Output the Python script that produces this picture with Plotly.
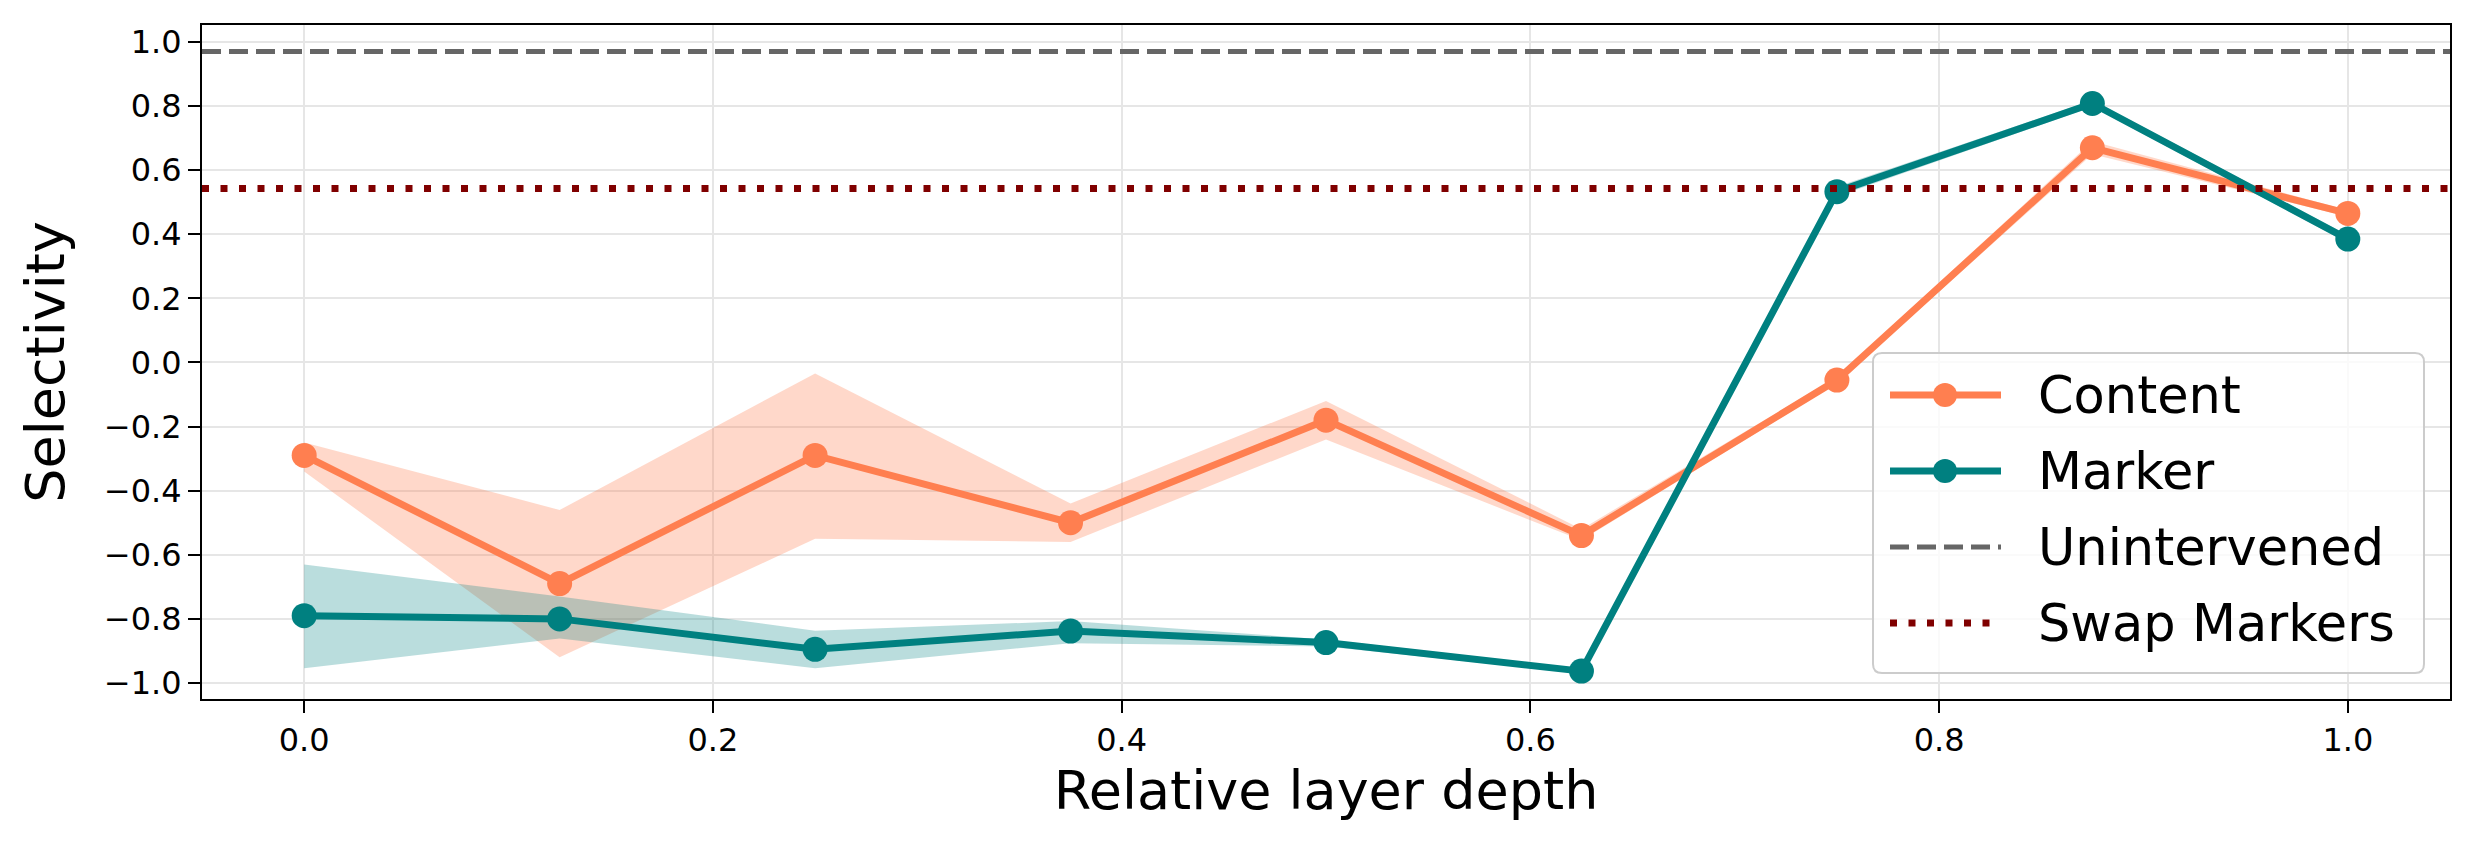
import plotly.graph_objects as go

# --- data ---
depth = [0.0, 0.125, 0.25, 0.375, 0.5, 0.625, 0.75, 0.875, 1.0]

content = [-0.29, -0.69, -0.29, -0.50, -0.18, -0.54, -0.055, 0.67, 0.465]
content_hi = [-0.25, -0.46, -0.034, -0.44, -0.12, -0.52, -0.045, 0.69, 0.475]
content_lo = [-0.34, -0.92, -0.55, -0.56, -0.24, -0.555, -0.065, 0.65, 0.455]

marker = [-0.79, -0.80, -0.895, -0.838, -0.874, -0.963, 0.533, 0.808, 0.385]
marker_hi = [-0.63, -0.73, -0.837, -0.807, -0.864, -0.955, 0.548, 0.818, 0.397]
marker_lo = [-0.954, -0.861, -0.954, -0.876, -0.886, -0.970, 0.518, 0.798, 0.373]

unintervened = 0.97
swap_markers = 0.543

legend_names = ["Content", "Marker", "Unintervened", "Swap Markers"]

CORAL = "#FF7F50"
TEAL = "#008080"
GREY = "#666666"
MAROON = "#800000"
FONT = "DejaVu Sans"
UNINT_DASH = "19px,8px"
SWAP_DASH = "7px,11.5px"

W, H = 2474, 850
ML, MR, MT, MB = 202, 24, 25, 151
PW, PH = W - ML - MR, H - MT - MB

fig = go.Figure()

# shaded bands (drawn first so lines sit on top)
for hi, lo, fill in [(content_hi, content_lo, "rgba(255,127,80,0.3)"),
                     (marker_hi, marker_lo, "rgba(0,128,128,0.27)")]:
    fig.add_trace(go.Scatter(x=depth, y=hi, mode="lines", line=dict(width=0),
                             showlegend=False, hoverinfo="skip"))
    fig.add_trace(go.Scatter(x=depth, y=lo, mode="lines", line=dict(width=0),
                             fill="tonexty", fillcolor=fill,
                             showlegend=False, hoverinfo="skip"))

for name, ys, col in [("Content", content, CORAL), ("Marker", marker, TEAL)]:
    fig.add_trace(go.Scatter(x=depth, y=ys, mode="lines+markers", name=name,
                             line=dict(color=col, width=7),
                             marker=dict(color=col, size=25),
                             showlegend=False))

fig.add_hline(y=unintervened, line=dict(color=GREY, width=5, dash=UNINT_DASH))
fig.add_hline(y=swap_markers, line=dict(color=MAROON, width=7, dash=SWAP_DASH))


# --- hand-built legend (matplotlib style: long handles, big text) ---
def px(xp):
    return (xp - ML) / PW


def py(yp):
    return (MT + PH - yp) / PH


def rounded_box(x0, y0, x1, y1, r):
    # pixel box -> paper-coord svg path with rounded corners
    a, b, c, d = px(x0), px(x1), py(y0), py(y1)
    rx, ry = r / PW, r / PH
    return (f"M{a + rx},{c} L{b - rx},{c} Q{b},{c} {b},{c - ry} "
            f"L{b},{d + ry} Q{b},{d} {b - rx},{d} L{a + rx},{d} "
            f"Q{a},{d} {a},{d + ry} L{a},{c - ry} Q{a},{c} {a + rx},{c} Z")


fig.add_shape(type="path", xref="paper", yref="paper",
              path=rounded_box(1873, 353, 2424, 673, 9),
              fillcolor="rgba(255,255,255,0.8)", line=dict(color="#cccccc", width=2))

styles = [(CORAL, 7, "solid", True), (TEAL, 7, "solid", True),
          (GREY, 5, UNINT_DASH, False), (MAROON, 7, SWAP_DASH, False)]
row_y = [395, 471, 547, 623]
for name, (col, lw, dash, dot), ry in zip(legend_names, styles, row_y):
    fig.add_shape(type="line", xref="paper", yref="paper",
                  x0=px(1890), x1=px(2001), y0=py(ry), y1=py(ry),
                  line=dict(color=col, width=lw, dash=dash))
    if dot:
        r = 12
        fig.add_shape(type="circle", xref="paper", yref="paper",
                      x0=px(1945 - r), x1=px(1945 + r), y0=py(ry + r), y1=py(ry - r),
                      fillcolor=col, line=dict(width=0))
    fig.add_annotation(x=px(2036), y=py(ry), xref="paper", yref="paper",
                       text=name, showarrow=False, xanchor="left", yanchor="middle",
                       font=dict(family=FONT, size=51, color="black"))

axis_common = dict(
    showline=True, linecolor="black", linewidth=2, mirror=True,
    ticks="outside", ticklen=12, tickwidth=2, tickcolor="black",
    showgrid=True, gridcolor="#e6e6e6", gridwidth=2,
    zeroline=False, tickfont=dict(family=FONT, size=32, color="black"),
)

fig.update_xaxes(range=[-0.05, 1.05], tickvals=[0, 0.2, 0.4, 0.6, 0.8, 1.0],
                 ticktext=["0.0", "0.2", "0.4", "0.6", "0.8", "1.0"],
                 title=dict(text="Relative layer depth", standoff=8,
                            font=dict(family=FONT, size=54, color="black")),
                 **axis_common)
fig.update_yaxes(range=[-1.05, 1.053],
                 tickvals=[-1.0, -0.8, -0.6, -0.4, -0.2, 0.0, 0.2, 0.4, 0.6, 0.8, 1.0],
                 tickformat=".1f",
                 title=dict(text="Selectivity", standoff=22,
                            font=dict(family=FONT, size=54, color="black")),
                 **axis_common)

fig.update_layout(
    width=W, height=H,
    margin=dict(l=ML, r=MR, t=MT, b=MB, autoexpand=False),
    plot_bgcolor="white", paper_bgcolor="white",
    font=dict(family=FONT, color="black"),
    showlegend=False,
)

# drop the browser's default 8px body margin so the figure sits at the page origin
fig.write_html("out.html", config={"displayModeBar": False},
               post_script="document.body.style.margin='0';")
